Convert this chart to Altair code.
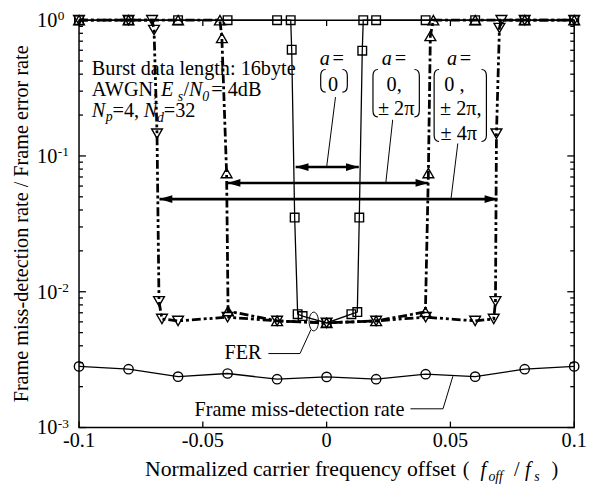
import altair as alt
import pandas as pd

# ---------------- data ----------------
offset_md = [-0.1, -0.08, -0.06, -0.04, -0.02, 0.0, 0.02, 0.04, 0.06, 0.08, 0.1]
miss_rate = [0.00282, 0.00269, 0.00237, 0.00250, 0.00227, 0.00236, 0.00227, 0.00247, 0.00237, 0.00269, 0.00282]

offset_a0 = [-0.1, -0.08, -0.06, -0.04, -0.02, -0.0145, -0.0141, -0.0129, -0.0117, -0.0097, 0.0,
             0.0100, 0.0124, 0.0132, 0.0144, 0.0148, 0.02, 0.04, 0.06, 0.08, 0.1]
fer_a0 = [1, 1, 1, 1, 1, 1, 0.606, 0.0352, 0.00684, 0.00662, 0.00589,
          0.00684, 0.00708, 0.0352, 0.596, 1, 1, 1, 1, 1, 1]

offset_a2 = [-0.1, -0.08, -0.06, -0.0431, -0.0423, -0.0404, -0.0398, -0.02, 0.0, 0.02,
             0.0399, 0.0411, 0.0419, 0.0431, 0.06, 0.08, 0.1]
fer_a2 = [1, 1, 1, 1, 0.74, 0.0748, 0.0072, 0.0061, 0.0059, 0.0061,
          0.0071, 0.0748, 0.765, 1, 1, 1, 1]

offset_a4 = [-0.1, -0.08, -0.0705, -0.0697, -0.0685, -0.0677, -0.0665, -0.06, -0.04, -0.02, 0.0,
             0.02, 0.04, 0.06, 0.0675, 0.0682, 0.0686, 0.0698, 0.0706, 0.08, 0.1]
fer_a4 = [1, 1, 1, 0.846, 0.146, 0.0085, 0.0063, 0.0061, 0.0065, 0.0061, 0.0059,
          0.0061, 0.0065, 0.0061, 0.0063, 0.0085, 0.146, 0.875, 1, 1, 1]

x_ticks = [-0.1, -0.05, 0.0, 0.05, 0.1]
x_tick_labels = ["-0.1", "-0.05", "0", "0.05", "0.1"]
y_ticks = [1.0, 0.1, 0.01, 0.001]
y_tick_exps = ["0", "-1", "-2", "-3"]
y_minor = [k * 10.0 ** e for e in (-3, -2, -1) for k in range(2, 10)]

# double arrows showing the pull-in ranges
arrow_lo = [-0.0125, -0.0400, -0.0675]
arrow_hi = [0.0130, 0.0411, 0.0690]
arrow_level = [0.0828, 0.0633, 0.0481]

# ---------------- layout ----------------
W, H = 502, 413
PAD_L, PAD_T = 72, 9
FONT = "Liberation Serif"
FS = 20.5


def dx(px):
    # picture pixel -> x data value (annotation placement)
    return -0.1 + (px - (8 + PAD_L)) / W * 0.2


def dy(py):
    # picture pixel -> y data value (annotation placement)
    return 10 ** (-(py - (8 + PAD_T)) / H * 3)


xs = alt.Scale(domain=[-0.1, 0.1], nice=False, zero=False)
ys = alt.Scale(type="log", domain=[0.001, 1], nice=False)
X = alt.X("x:Q", scale=xs, axis=None)
Y = alt.Y("y:Q", scale=ys, axis=None)


def sdf(xv, yv):
    return pd.DataFrame({"x": xv, "y": yv, "i": list(range(len(xv)))})


layers = []

# ----- series -----
series = [
    (offset_md, miss_rate, "circle", 90, 1.3, None),
    (offset_a0, fer_a0, "square", 76, 1.3, None),
    (offset_a2, fer_a2, "triangle-up", 120, 2.8, [9, 3, 3, 3]),
    (offset_a4, fer_a4, "triangle-down", 120, 2.8, [9, 3, 3, 3, 3, 3]),
]
for xv, yv, shp, sz, lw, dash in series:
    d = sdf(xv, yv)
    kw = dict(color="black", strokeWidth=lw)
    if dash:
        kw["strokeDash"] = dash
    layers.append(alt.Chart(d).mark_line(**kw).encode(x=X, y=Y, order="i:Q"))
for xv, yv, shp, sz, lw, dash in series:
    d = sdf(xv, yv)
    layers.append(alt.Chart(d).mark_point(shape=shp, size=sz, filled=False, color="black",
                                          strokeWidth=1.4, opacity=1).encode(x=X, y=Y))

# ----- ticks (inward) -----
yt = pd.DataFrame({"y": y_ticks})
ym = pd.DataFrame({"y": y_minor})
xt = pd.DataFrame({"x": x_ticks})
layers += [
    alt.Chart(yt).mark_rule(color="black", strokeWidth=1.3).encode(y=Y, x=alt.value(0), x2=alt.value(7)),
    alt.Chart(yt).mark_rule(color="black", strokeWidth=1.3).encode(y=Y, x=alt.value(W), x2=alt.value(W - 7)),
    alt.Chart(ym).mark_rule(color="black", strokeWidth=1.3).encode(y=Y, x=alt.value(0), x2=alt.value(4)),
    alt.Chart(ym).mark_rule(color="black", strokeWidth=1.3).encode(y=Y, x=alt.value(W), x2=alt.value(W - 4)),
    alt.Chart(xt).mark_rule(color="black", strokeWidth=1.3).encode(x=X, y=alt.value(H), y2=alt.value(H - 6)),
    alt.Chart(xt).mark_rule(color="black", strokeWidth=1.3).encode(x=X, y=alt.value(0), y2=alt.value(6)),
]

# tick labels
xl = pd.DataFrame({"x": x_ticks, "t": x_tick_labels})
layers.append(alt.Chart(xl).mark_text(font=FONT, fontSize=FS, align="center", baseline="alphabetic",
                                      color="black").encode(x=X, y=alt.value(450 - 17), text="t:N"))
yl = pd.DataFrame({"y": y_ticks, "t": ["10"] * 4, "e": y_tick_exps})
layers.append(alt.Chart(yl).mark_text(font=FONT, fontSize=FS, align="right", baseline="alphabetic",
                                      dy=7, color="black").encode(y=Y, x=alt.value(58 - 80), text="t:N"))
layers.append(alt.Chart(yl).mark_text(font=FONT, fontSize=13.5, align="left", baseline="alphabetic",
                                      dy=0, color="black").encode(y=Y, x=alt.value(58.5 - 80), text="e:N"))

# ----- arrows -----
ar = pd.DataFrame({"x": arrow_lo, "x2": arrow_hi, "y": arrow_level})
layers.append(alt.Chart(ar).mark_rule(color="black", strokeWidth=2.6).encode(x=X, x2="x2:Q", y=Y))
layers.append(alt.Chart(ar).mark_point(shape="M0,0 L2,-0.6 L2,0.6 Z", size=169, filled=True,
                                       color="black", opacity=1).encode(x=X, y=Y))
arr = pd.DataFrame({"x": arrow_hi, "y": arrow_level})
layers.append(alt.Chart(arr).mark_point(shape="M0,0 L-2,-0.6 L-2,0.6 Z", size=169, filled=True,
                                        color="black", opacity=1).encode(x=X, y=Y))


# ----- brackets around the a = [...] sets -----
def bracket(h, side, w=5.0, r=6.5):
    u = 2.0 / h
    sgn = 1 if side == "l" else -1
    return (f"M{sgn*w*u:.4f},-1 Q0,-1 0,{-1 + r*u:.4f} L0,{1 - r*u:.4f} Q0,1 {sgn*w*u:.4f},1")


brackets = [(325, 352, 78.5, 23), (378, 425, 91, 48), (440, 493, 103.5, 73)]
for lx, rx, cy, hh in brackets:
    for px, side in ((lx, "l"), (rx, "r")):
        bd = pd.DataFrame({"x": [dx(px)], "y": [dy(cy)]})
        layers.append(alt.Chart(bd).mark_point(shape=bracket(hh, side), size=hh * hh, filled=False,
                                               color="black", strokeWidth=1.2, opacity=1).encode(x=X, y=Y))

# ----- leader lines -----
leaders = [
    ("l1", [(340, 95), (331, 166)]),
    ("l2", [(398, 118), (391, 182)]),
    ("l3", [(464, 142), (457, 199)]),
    ("fer", [(272, 355), (304, 355), (315, 331)]),
    ("md", [(416, 411), (449, 411), (459, 378)]),
]
rows = []
for g, pts in leaders:
    for k, (px, py) in enumerate(pts):
        rows.append({"g": g, "o": k, "x": dx(px), "y": dy(py)})
ld = pd.DataFrame(rows)
layers.append(alt.Chart(ld).mark_line(color="black", strokeWidth=1).encode(x=X, y=Y, detail="g:N", order="o:Q"))

# ellipse marking the FER curves
el = pd.DataFrame({"x": [dx(318)], "y": [dy(322.5)]})
layers.append(alt.Chart(el).mark_point(shape="M-0.5,0 A0.5,1 0 1,0 0.5,0 A0.5,1 0 1,0 -0.5,0 Z", size=361,
                                       filled=False, color="black", strokeWidth=1, opacity=1).encode(x=X, y=Y))


# ----- texts -----
def txt(rows, size=FS, italic=False, align="left", baseline="alphabetic", angle=0):
    d = pd.DataFrame(rows, columns=["px", "py", "t"])
    d["x"] = d.px.map(dx)
    d["y"] = d.py.map(dy)
    kw = dict(font=FONT, fontSize=size, align=align, baseline=baseline, color="black")
    if italic:
        kw["fontStyle"] = "italic"
    if angle:
        kw["angle"] = angle
    return alt.Chart(d).mark_text(**kw).encode(x=X, y=Y, text="t:N")


layers.append(txt([
    (93, 73, "Burst data length: 16byte"),
    (93, 94, "AWGN,"), (186, 94, "/"), (214, 94, "= 4dB"),
    (114, 115, "=4,"), (166, 115, "=32"),
    (337, 62, "="), (400, 62, "="), (466, 62, "="),
    (197, 418, "Frame miss-detection rate"),
    (469, 479, "("), (521, 479, "/"), (559, 479, ")"),
]))
layers.append(txt([(147, 479, "Normalized carrier frequency offset")], size=22))
layers.append(txt([(265, 361, "FER")], align="right"))
layers.append(txt([
    (163, 94, "E"), (191.5, 94, "N"), (93, 115, "N"), (145.5, 115, "N"),
    (324, 62, "a"), (387, 62, "a"), (453, 62, "a"),
    (487, 479, "f"), (532, 479, "f"),
], italic=True))
layers.append(txt([
    (180, 99, "s"), (205, 99, "0"), (107, 119, "p"), (159, 120, "d"),
    (495, 484, "off"), (541.5, 484, "s"),
], size=14, italic=True))
layers.append(txt([
    (337.5, 89, "0"), (399.5, 89, "0,"), (401.5, 113, "± 2π"),
    (460.5, 89, "0 ,"), (467, 113, "± 2π,"), (465, 138, "± 4π"),
], align="center"))
layers.append(txt([(22, 223.5, "Frame miss-detection rate / Frame error rate")], size=20.5,
                  align="center", baseline="middle", angle=270))

chart = alt.layer(*layers).properties(
    width=W, height=H,
    padding={"left": PAD_L, "top": PAD_T, "right": 15, "bottom": 60},
    autosize=alt.AutoSizeParams(type="none"),
).configure_view(stroke="black", strokeWidth=1.5)

chart.save("out.html", embed_options={"renderer": "svg", "actions": False})
